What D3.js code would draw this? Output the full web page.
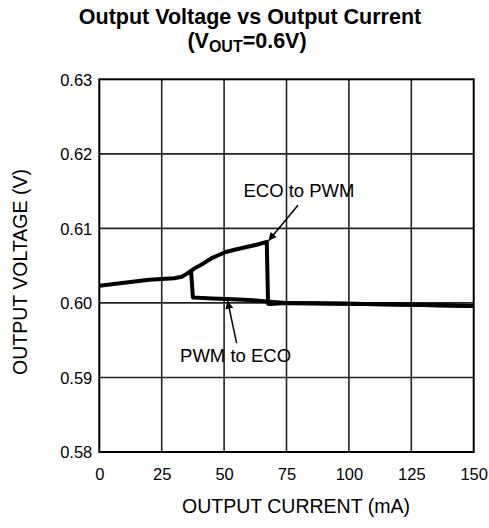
<!DOCTYPE html>
<html>
<head>
<meta charset="utf-8">
<script src="https://cdn.jsdelivr.net/npm/d3@7"></script>
<style>
  html, body { margin: 0; padding: 0; background: #fff; }
  svg { display: block; font-family: "Liberation Sans", Arial, Helvetica, sans-serif; }
</style>
</head>
<body>
<svg id="chart" width="489" height="528"></svg>
<script>
// ---- data ----
const xTicks = [0, 25, 50, 75, 100, 125, 150];
const yTicks = [0.58, 0.59, 0.60, 0.61, 0.62, 0.63];
const yTickLabels = ["0.58", "0.59", "0.60", "0.61", "0.62", "0.63"];

// ECO to PWM (increasing load)
const ecoToPwmI = [0, 5, 10, 15, 20, 25, 30, 33, 35, 38, 41.7, 45, 50.4, 55, 59, 63, 67.1, 67.6, 68.5, 70, 75, 100, 125, 150];
const ecoToPwmV = [0.6023, 0.6025, 0.6027, 0.6029, 0.6031, 0.6032, 0.6033, 0.6035, 0.6039, 0.6046, 0.6053, 0.6060, 0.6068, 0.6072, 0.6075, 0.6078, 0.6082, 0.5999, 0.59985, 0.5999, 0.6000, 0.5999, 0.59977, 0.5996];

// PWM to ECO (decreasing load)
const pwmToEcoI = [150, 125, 100, 75, 67, 60, 51, 45, 40, 37.5, 36.8];
const pwmToEcoV = [0.5996, 0.59977, 0.5999, 0.6000, 0.6002, 0.6004, 0.60051, 0.6006, 0.60068, 0.60074, 0.6041];

const annotations = [
  { text: "ECO to PWM", tx: 80, ty: 0.61422, ax0: 79.6, ay0: 0.61311, ax1: 67.8, ay1: 0.60835 },
  { text: "PWM to ECO", tx: 54.6, ty: 0.59210, ax0: 55.0, ay0: 0.59461, ax1: 51.4, ay1: 0.60030 }
];

// ---- layout ----
const W = 489, H = 528;
const margin = { left: 99.3, right: W - 473.7, top: 79.3, bottom: H - 452 };
const svg = d3.select("#chart");
const x = d3.scaleLinear().domain([0, 150]).range([margin.left, W - margin.right]);
const y = d3.scaleLinear().domain([0.58, 0.63]).range([H - margin.bottom, margin.top]);

// grid
const g = svg.append("g");
g.selectAll("line.vx").data(xTicks.slice(1, -1)).join("line")
  .attr("x1", d => x(d)).attr("x2", d => x(d))
  .attr("y1", y(0.58)).attr("y2", y(0.63))
  .attr("stroke", "#222").attr("stroke-width", 1.6);
g.selectAll("line.hy").data(yTicks.slice(1, -1)).join("line")
  .attr("x1", x(0)).attr("x2", x(150))
  .attr("y1", d => y(d)).attr("y2", d => y(d))
  .attr("stroke", "#222").attr("stroke-width", 1.6);

// axes (labels only)
const xAxis = d3.axisBottom(x).tickValues(xTicks).tickSize(0).tickPadding(0).tickFormat(d3.format("d"));
const xg = svg.append("g").attr("transform", `translate(0,${y(0.58)})`).call(xAxis);
xg.select(".domain").remove();
xg.selectAll("text").attr("font-size", 16.5).attr("fill", "#000").attr("dy", "1.72em")
  .attr("font-family", "'Liberation Sans', Arial, sans-serif");

const yAxis = d3.axisLeft(y).tickValues(yTicks).tickSize(0).tickPadding(7)
  .tickFormat((d, i) => yTickLabels[i]);
const yg = svg.append("g").attr("transform", `translate(${x(0)},0)`).call(yAxis);
yg.select(".domain").remove();
yg.selectAll("text").attr("font-size", 16.5).attr("fill", "#000").attr("dy", "0.35em")
  .attr("font-family", "'Liberation Sans', Arial, sans-serif");

// frame
svg.append("rect")
  .attr("x", x(0)).attr("y", y(0.63))
  .attr("width", x(150) - x(0)).attr("height", y(0.58) - y(0.63))
  .attr("fill", "none").attr("stroke", "#000").attr("stroke-width", 2);

// curves
const line = d3.line().x(d => x(d[0])).y(d => y(d[1]));
const s1 = ecoToPwmI.map((v, i) => [v, ecoToPwmV[i]]);
const s2 = pwmToEcoI.map((v, i) => [v, pwmToEcoV[i]]);
svg.append("clipPath").attr("id", "clip").append("rect")
  .attr("x", x(0)).attr("y", y(0.63)).attr("width", x(150) - x(0)).attr("height", y(0.58) - y(0.63));
[s1, s2].forEach(s => {
  svg.append("path").datum(s).attr("d", line)
    .attr("fill", "none").attr("stroke", "#000").attr("stroke-width", 4)
    .attr("stroke-linejoin", "round").attr("stroke-linecap", "round")
    .attr("clip-path", "url(#clip)");
});

// arrows
const defs = svg.append("defs");
defs.append("marker").attr("id", "arrow").attr("viewBox", "0 0 10 10")
  .attr("refX", 10).attr("refY", 5).attr("markerWidth", 11).attr("markerHeight", 8)
  .attr("markerUnits", "userSpaceOnUse").attr("orient", "auto")
  .append("path").attr("d", "M0,0 L10,5 L0,10 Z").attr("fill", "#000");

annotations.forEach(a => {
  svg.append("line")
    .attr("x1", x(a.ax0)).attr("y1", y(a.ay0))
    .attr("x2", x(a.ax1)).attr("y2", y(a.ay1))
    .attr("stroke", "#000").attr("stroke-width", 1.5)
    .attr("marker-end", "url(#arrow)");
  svg.append("text").attr("x", x(a.tx)).attr("y", y(a.ty))
    .attr("text-anchor", "middle").attr("font-size", 18.5).attr("fill", "#000")
    .text(a.text);
});

// titles
svg.append("text").attr("x", 250).attr("y", 24).attr("text-anchor", "middle")
  .attr("font-size", 21.5).attr("font-weight", "bold").attr("fill", "#000")
  .text("Output Voltage vs Output Current");
const t2 = svg.append("text").attr("x", 247).attr("y", 48).attr("text-anchor", "middle")
  .attr("font-size", 21.5).attr("font-weight", "bold").attr("fill", "#000");
t2.append("tspan").text("(V");
t2.append("tspan").attr("dy", 4).attr("font-size", 16).text("OUT");
t2.append("tspan").attr("dy", -4).text("=0.6V)");

svg.append("text").attr("x", 296).attr("y", 513).attr("text-anchor", "middle")
  .attr("font-size", 19.5).attr("fill", "#000").text("OUTPUT CURRENT (mA)");
svg.append("text").attr("transform", `translate(27,${272}) rotate(-90)`)
  .attr("text-anchor", "middle").attr("font-size", 19.5).attr("fill", "#000")
  .text("OUTPUT VOLTAGE (V)");
</script>
</body>
</html>
